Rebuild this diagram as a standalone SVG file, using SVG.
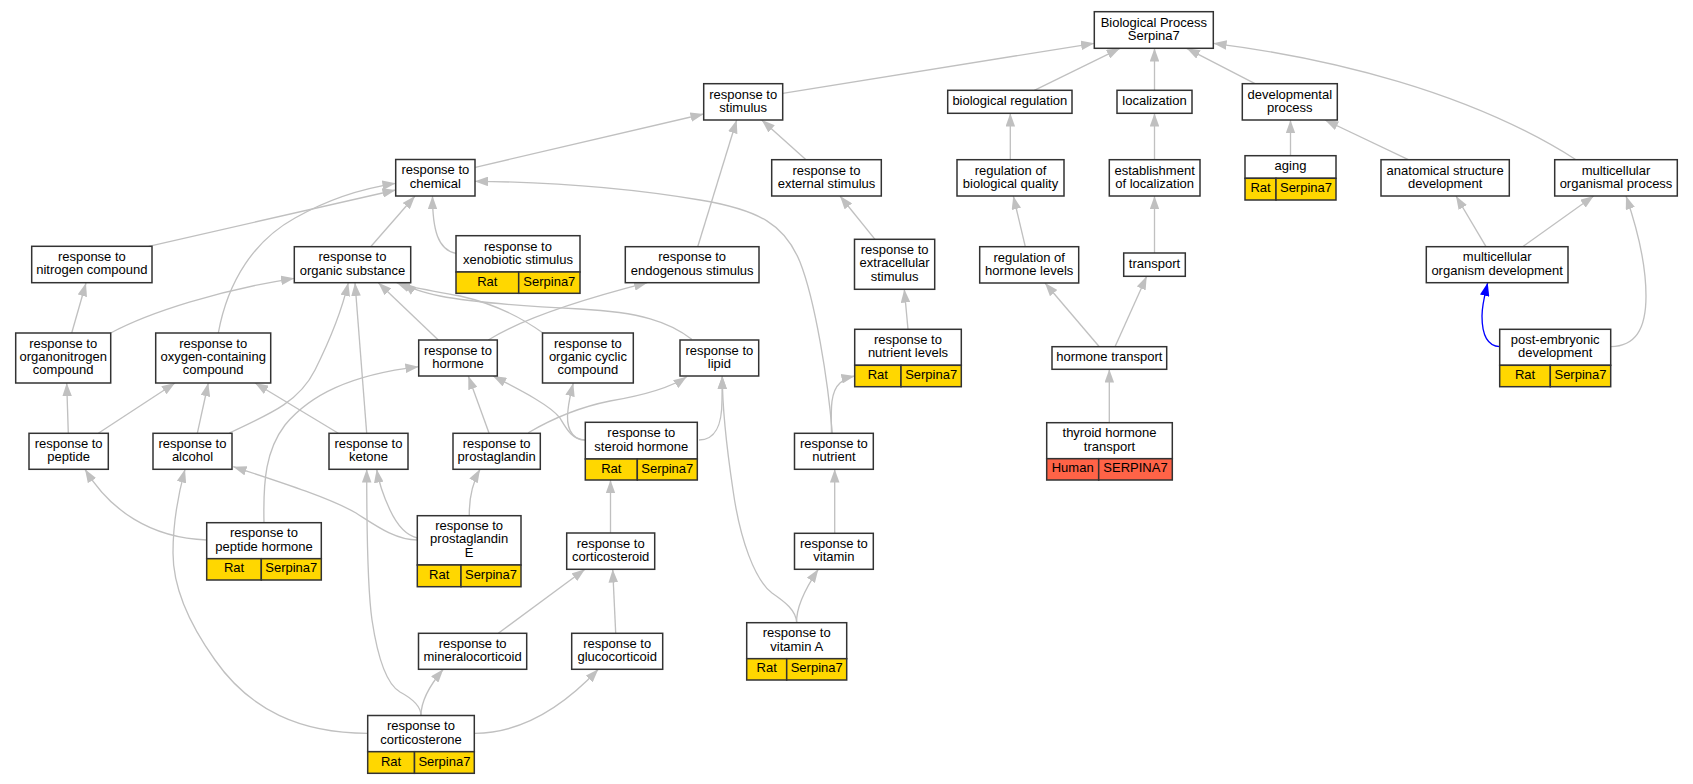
<svg xmlns="http://www.w3.org/2000/svg" width="1693" height="784" viewBox="0 0 1693 784">
<style>
.n rect{fill:#fff;stroke:#333;stroke-width:1.5}
.n rect.a{fill:#FFD700}
.n rect.h{fill:#FF6347}
text{font-family:"Liberation Sans",Arial,sans-serif;font-size:13px;text-anchor:middle;fill:#000}
#edges path{fill:none;stroke:#C0C0C0;stroke-width:1.33;marker-end:url(#ah)}
#edges path.b{stroke:#0000FF;marker-end:url(#ahb)}
</style>
<defs>
<marker id="ah" viewBox="0 0 13.3 9.6" refX="13.3" refY="4.8" markerWidth="13.3" markerHeight="9.6" markerUnits="userSpaceOnUse" orient="auto"><path d="M0,0 L13.3,4.8 L0,9.6 z" fill="#C0C0C0"/></marker>
<marker id="ahb" viewBox="0 0 13.3 9.6" refX="13.3" refY="4.8" markerWidth="13.3" markerHeight="9.6" markerUnits="userSpaceOnUse" orient="auto"><path d="M0,0 L13.3,4.8 L0,9.6 z" fill="#0000FF"/></marker>
</defs>
<rect width="1693" height="784" fill="#fff"/>
<g id="edges">
<path d="M782.7,93.3 L1094.3,43.3"/>
<path d="M1034.3,90.3 L1120,48.3"/>
<path d="M1154.5,90.3 L1154.5,48.3"/>
<path d="M1255,83.7 L1186.7,48.3"/>
<path d="M1576,159.7 C1470,92 1330,58 1213.3,43.3"/>
<path d="M475.3,167.3 L703.7,114"/>
<path d="M697.7,246.7 L736.7,120"/>
<path d="M806,159.7 L761.7,120"/>
<path d="M1010.3,159.7 L1010.3,113.3"/>
<path d="M1154.5,159.7 L1154.5,113.3"/>
<path d="M1290.5,155.7 L1290.5,120"/>
<path d="M1408.3,159.7 L1325,120"/>
<path d="M148.7,246.3 L395.7,190"/>
<path d="M370.7,246.7 L415,196"/>
<path d="M456,253.3 C438,250 432.5,230 432.5,196"/>
<path d="M218.3,333 C228,280 255,240 295,218 C330,198 365,188 395.7,183.3"/>
<path d="M832.3,433.3 C828,380 815,300 800,262 C785,225 760,210 700,200 C640,190 560,182 474.7,181.3"/>
<path d="M71.7,333 L86,283"/>
<path d="M110.7,333 C150,312 220,290 294.3,278.3"/>
<path d="M229.3,433 C275,412 300,400 315,370 C330,340 342,310 348.3,282.7"/>
<path d="M366.7,433.3 L355,282.7"/>
<path d="M438.3,340 L378.3,282.7"/>
<path d="M543.3,333.3 C525,320 500,305 460,296 C430,290 410,288 396.7,282.7"/>
<path d="M691.7,339.3 C670,322 640,312 580,309 C520,306 470,302 440,296 C420,292 410,288 403.3,282.7"/>
<path d="M68.3,433.3 L66.7,383"/>
<path d="M98.3,433.3 L175,383"/>
<path d="M197.3,433.3 L208.3,383"/>
<path d="M338.3,433.3 L255,383"/>
<path d="M488.3,340 C520,320 580,300 647.3,282.7"/>
<path d="M489,433 L468.3,376"/>
<path d="M585.3,440 C572,440 566,428 560,418 C550,405 520,390 493,376"/>
<path d="M585.3,440 C570,440 566,425 568,410 C569,400 571,392 573.3,383"/>
<path d="M528.3,432.7 C550,420 575,408 610,401 C645,395 670,388 686.7,376.7"/>
<path d="M699,440 C716,440 722,425 722,400 L722.3,376"/>
<path d="M796.7,622.7 C796,610 785,602 772,593 C755,580 740,540 733,490 C727,450 722.3,410 722.3,376"/>
<path d="M831.5,433.3 C831,410 830,392 840,383 C845,379 850,377 854.7,376"/>
<path d="M908,329.3 L904.3,289.3"/>
<path d="M875,239.3 L840,196"/>
<path d="M834.7,533.3 L834.7,469.3"/>
<path d="M796.7,622.7 C796,610 803,592 818.3,569.3"/>
<path d="M1025.3,246.7 L1013.3,196"/>
<path d="M1154.5,253 L1154.5,196"/>
<path d="M1099.3,346.7 L1045,283"/>
<path d="M1115,346.7 L1146.7,276.3"/>
<path d="M1109.3,422.7 L1109.3,369.3"/>
<path d="M1486,246.7 L1456,196"/>
<path d="M1522.7,246.7 L1593.7,196"/>
<path class="b" d="M1499.7,346.7 C1487,346 1482,335 1482,316 C1482,305 1485,294 1487.7,282.7"/>
<path d="M1610.7,346.7 C1635,346 1646,330 1646,296 C1646,260 1636,225 1626,196"/>
<path d="M206.7,540 C150,538 110,510 85,469.3"/>
<path d="M264,522.7 C263,480 266,450 285,425 C310,395 350,375 418.7,366.7"/>
<path d="M417.3,540 C395,540 375,525 356,513 C330,498 280,482 233.3,466.7"/>
<path d="M417.3,538 C405,535 397,525 390,510 C384,497 379,484 376.7,469.3"/>
<path d="M469.3,515.7 C469,495 474,480 480,469.3"/>
<path d="M367.7,733.3 C300,733 250,710 215,660 C190,625 173,590 173,553 C173,520 178,495 185,469.3"/>
<path d="M421,715.5 C421,707 415,700 400,692 C388,685 378,660 372,620 C367,585 366.7,520 366.7,469.3"/>
<path d="M421,715.5 C421,700 430,685 443.3,669.3"/>
<path d="M475,733.3 C520,733 560,710 598.3,669.3"/>
<path d="M498.3,633.3 L585,569.3"/>
<path d="M615.7,633.3 L612.7,569.3"/>
<path d="M610.5,533 L610.5,480"/>
</g>
<g id="bp" class="n"><rect x="1094.3" y="11.7" width="119" height="36.6"/><text x="1153.8" y="26.7">Biological Process</text><text x="1153.8" y="39.9">Serpina7</text></g>
<g id="stim" class="n"><rect x="703.7" y="83.7" width="79" height="36.3"/><text x="743.2" y="98.5">response to</text><text x="743.2" y="111.7">stimulus</text></g>
<g id="bioreg" class="n"><rect x="947.7" y="90.3" width="124.3" height="23"/><text x="1009.85" y="105">biological regulation</text></g>
<g id="loc" class="n"><rect x="1117" y="90.3" width="75" height="23"/><text x="1154.5" y="105">localization</text></g>
<g id="dev" class="n"><rect x="1242.3" y="83.7" width="95" height="36.3"/><text x="1289.8" y="98.5">developmental</text><text x="1289.8" y="111.7">process</text></g>
<g id="chem" class="n"><rect x="395.7" y="159.5" width="79.3" height="36.5"/><text x="435.35" y="174.4">response to</text><text x="435.35" y="187.6">chemical</text></g>
<g id="ext" class="n"><rect x="771.7" y="159.7" width="109.6" height="36.3"/><text x="826.5" y="174.5">response to</text><text x="826.5" y="187.7">external stimulus</text></g>
<g id="rbq" class="n"><rect x="957" y="159.7" width="107" height="36.3"/><text x="1010.5" y="174.5">regulation of</text><text x="1010.5" y="187.7">biological quality</text></g>
<g id="est" class="n"><rect x="1109.3" y="159.7" width="90.7" height="36.3"/><text x="1154.65" y="174.5">establishment</text><text x="1154.65" y="187.7">of localization</text></g>
<g id="aging" class="n"><rect x="1245" y="155.7" width="91" height="22.6"/><rect class="a" x="1245" y="178.3" width="31" height="21.7"/><rect class="a" x="1276" y="178.3" width="60" height="21.7"/><text x="1290.5" y="170.2">aging</text><text x="1260.5" y="192.2">Rat</text><text x="1306" y="192.2">Serpina7</text></g>
<g id="asd" class="n"><rect x="1381" y="159.7" width="128.3" height="36.3"/><text x="1445.15" y="174.5">anatomical structure</text><text x="1445.15" y="187.7">development</text></g>
<g id="mop" class="n"><rect x="1554.7" y="159.7" width="122.6" height="36.3"/><text x="1616" y="174.5">multicellular</text><text x="1616" y="187.7">organismal process</text></g>
<g id="nitro" class="n"><rect x="31.7" y="246.3" width="120.3" height="36.4"/><text x="91.85" y="261.2">response to</text><text x="91.85" y="274.4">nitrogen compound</text></g>
<g id="orgsub" class="n"><rect x="294.3" y="246.7" width="116.4" height="36"/><text x="352.5" y="261.4">response to</text><text x="352.5" y="274.6">organic substance</text></g>
<g id="xeno" class="n"><rect x="456" y="235.7" width="124" height="36.3"/><rect class="a" x="456" y="272" width="62.7" height="21.3"/><rect class="a" x="518.7" y="272" width="61.3" height="21.3"/><text x="518" y="250.5">response to</text><text x="518" y="263.7">xenobiotic stimulus</text><text x="487.35" y="285.7">Rat</text><text x="549.35" y="285.7">Serpina7</text></g>
<g id="endo" class="n"><rect x="625.3" y="246.7" width="133.7" height="36"/><text x="692.15" y="261.4">response to</text><text x="692.15" y="274.6">endogenous stimulus</text></g>
<g id="extra" class="n"><rect x="854.5" y="239.3" width="80.2" height="50"/><text x="894.6" y="254">response to</text><text x="894.6" y="267.3">extracellular</text><text x="894.6" y="280.6">stimulus</text></g>
<g id="rhl" class="n"><rect x="979.7" y="246.7" width="99" height="36.3"/><text x="1029.2" y="261.5">regulation of</text><text x="1029.2" y="274.7">hormone levels</text></g>
<g id="transport" class="n"><rect x="1123.7" y="253" width="61.6" height="23.3"/><text x="1154.5" y="267.8">transport</text></g>
<g id="mod" class="n"><rect x="1426.3" y="246.7" width="141.7" height="36"/><text x="1497.15" y="261.4">multicellular</text><text x="1497.15" y="274.6">organism development</text></g>
<g id="orgnitro" class="n"><rect x="15.7" y="333" width="95" height="50"/><text x="63.2" y="347.7">response to</text><text x="63.2" y="361">organonitrogen</text><text x="63.2" y="374.3">compound</text></g>
<g id="oxy" class="n"><rect x="155.7" y="333" width="115" height="50"/><text x="213.2" y="347.7">response to</text><text x="213.2" y="361">oxygen-containing</text><text x="213.2" y="374.3">compound</text></g>
<g id="hormone" class="n"><rect x="418.7" y="340" width="78.6" height="36"/><text x="458" y="354.7">response to</text><text x="458" y="367.9">hormone</text></g>
<g id="cyclic" class="n"><rect x="542.5" y="333" width="90.8" height="50"/><text x="587.9" y="347.7">response to</text><text x="587.9" y="361">organic cyclic</text><text x="587.9" y="374.3">compound</text></g>
<g id="lipid" class="n"><rect x="680" y="340" width="78.7" height="36"/><text x="719.35" y="354.7">response to</text><text x="719.35" y="367.9">lipid</text></g>
<g id="nutlev" class="n"><rect x="854.7" y="329.3" width="106.6" height="36"/><rect class="a" x="854.7" y="365.3" width="46.3" height="21.4"/><rect class="a" x="901" y="365.3" width="60.3" height="21.4"/><text x="908" y="344">response to</text><text x="908" y="357.2">nutrient levels</text><text x="877.85" y="379">Rat</text><text x="931.15" y="379">Serpina7</text></g>
<g id="htrans" class="n"><rect x="1052" y="346.7" width="114.7" height="22.6"/><text x="1109.35" y="361.2">hormone transport</text></g>
<g id="pe" class="n"><rect x="1499.7" y="329.3" width="111" height="36"/><rect class="a" x="1499.7" y="365.3" width="50.6" height="21.4"/><rect class="a" x="1550.3" y="365.3" width="60.4" height="21.4"/><text x="1555.2" y="344">post-embryonic</text><text x="1555.2" y="357.2">development</text><text x="1525" y="379">Rat</text><text x="1580.5" y="379">Serpina7</text></g>
<g id="peptide" class="n"><rect x="29" y="433.3" width="79.3" height="36"/><text x="68.65" y="448">response to</text><text x="68.65" y="461.2">peptide</text></g>
<g id="alcohol" class="n"><rect x="153" y="433.3" width="79" height="36"/><text x="192.5" y="448">response to</text><text x="192.5" y="461.2">alcohol</text></g>
<g id="ketone" class="n"><rect x="329" y="433.3" width="79" height="36"/><text x="368.5" y="448">response to</text><text x="368.5" y="461.2">ketone</text></g>
<g id="pg" class="n"><rect x="453" y="433.3" width="87.3" height="36"/><text x="496.65" y="448">response to</text><text x="496.65" y="461.2">prostaglandin</text></g>
<g id="steroid" class="n"><rect x="585.3" y="422.3" width="112" height="36.7"/><rect class="a" x="585.3" y="459" width="52" height="21"/><rect class="a" x="637.3" y="459" width="60" height="21"/><text x="641.3" y="437.35">response to</text><text x="641.3" y="450.55">steroid hormone</text><text x="611.3" y="472.5">Rat</text><text x="667.3" y="472.5">Serpina7</text></g>
<g id="nutrient" class="n"><rect x="794.5" y="433.3" width="78.8" height="36"/><text x="833.9" y="448">response to</text><text x="833.9" y="461.2">nutrient</text></g>
<g id="thyroid" class="n"><rect x="1046.7" y="422.7" width="125.6" height="36"/><rect class="h" x="1046.7" y="458.7" width="52" height="21.3"/><rect class="h" x="1098.7" y="458.7" width="73.6" height="21.3"/><text x="1109.5" y="437.4">thyroid hormone</text><text x="1109.5" y="450.6">transport</text><text x="1072.7" y="472.4">Human</text><text x="1135.5" y="472.4">SERPINA7</text></g>
<g id="pephorm" class="n"><rect x="206.7" y="522.7" width="114.6" height="36"/><rect class="a" x="206.7" y="558.7" width="54.6" height="21.3"/><rect class="a" x="261.3" y="558.7" width="60" height="21.3"/><text x="264" y="537.4">response to</text><text x="264" y="550.6">peptide hormone</text><text x="234" y="572.4">Rat</text><text x="291.3" y="572.4">Serpina7</text></g>
<g id="pge" class="n"><rect x="417.3" y="515.7" width="103.7" height="49.3"/><rect class="a" x="417.3" y="565" width="43.7" height="21.7"/><rect class="a" x="461" y="565" width="60" height="21.7"/><text x="469.15" y="530">response to</text><text x="469.15" y="543.3">prostaglandin</text><text x="469.15" y="556.6">E</text><text x="439.15" y="578.9">Rat</text><text x="491" y="578.9">Serpina7</text></g>
<g id="cortoid" class="n"><rect x="566.7" y="533" width="88" height="36.3"/><text x="610.7" y="547.85">response to</text><text x="610.7" y="561.05">corticosteroid</text></g>
<g id="vitamin" class="n"><rect x="794.5" y="533.3" width="78.8" height="36"/><text x="833.9" y="548">response to</text><text x="833.9" y="561.2">vitamin</text></g>
<g id="mineral" class="n"><rect x="418.5" y="633.3" width="108.2" height="36"/><text x="472.6" y="648">response to</text><text x="472.6" y="661.2">mineralocorticoid</text></g>
<g id="gluco" class="n"><rect x="571.7" y="633.3" width="91" height="36"/><text x="617.2" y="648">response to</text><text x="617.2" y="661.2">glucocorticoid</text></g>
<g id="vitA" class="n"><rect x="746.7" y="622.7" width="100" height="36"/><rect class="a" x="746.7" y="658.7" width="40" height="21.3"/><rect class="a" x="786.7" y="658.7" width="60" height="21.3"/><text x="796.7" y="637.4">response to</text><text x="796.7" y="650.6">vitamin A</text><text x="766.7" y="672.4">Rat</text><text x="816.7" y="672.4">Serpina7</text></g>
<g id="corticosterone" class="n"><rect x="367.7" y="715.5" width="106.6" height="36.2"/><rect class="a" x="367.7" y="751.7" width="46.8" height="21.6"/><rect class="a" x="414.5" y="751.7" width="59.8" height="21.6"/><text x="421" y="730.3">response to</text><text x="421" y="743.5">corticosterone</text><text x="391.1" y="765.5">Rat</text><text x="444.4" y="765.5">Serpina7</text></g>
</svg>
